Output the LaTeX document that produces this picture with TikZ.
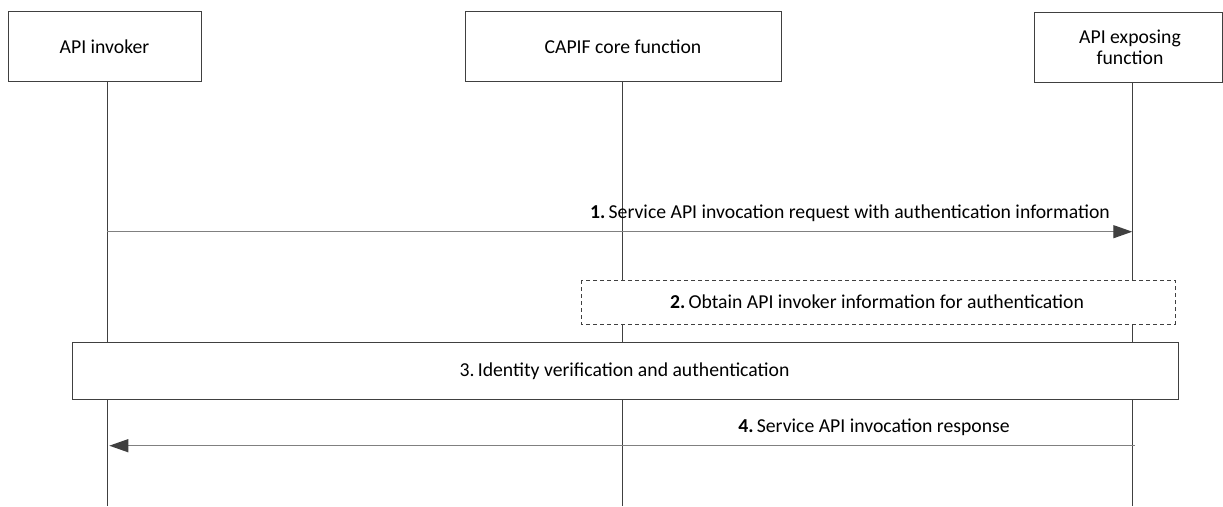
\documentclass[tikz,border=0pt]{standalone}
\usepackage{fontspec}
\setmainfont{Carlito}
\usetikzlibrary{arrows.meta}
\definecolor{edge}{HTML}{404040}
\definecolor{msg}{HTML}{808080}
\begin{document}
\begin{tikzpicture}[x=1pt,y=-1pt,
  every node/.style={font=\fontsize{19.7}{21.5}\selectfont, inner sep=0pt},
  entity/.style={draw=edge, line width=1pt, fill=white},
  lifeline/.style={draw=edge, line width=1pt},
  stepbox/.style={draw=edge, line width=1pt, fill=white},
  optbox/.style={draw=edge, line width=1pt, fill=white, dashed, dash pattern=on 4pt off 3pt},
  message/.style={draw=msg, line width=1.3pt, -{Triangle[length=19pt,width=13pt,color=edge,fill=edge]}},
  lbl/.style={anchor=base}]
\useasboundingbox (0,0) rectangle (1223,506);
% entity boxes
\draw[entity] (8,11.7) rectangle (201,81);
\draw[entity] (465,11.7) rectangle (781,81);
\draw[entity] (1034,12.7) rectangle (1222,82);
\node (A) at (104.5,46.3) {API invoker};
\node (B) at (623,46.3) {CAPIF core function};
\node[align=center] (C) at (1130,47.3) {API exposing\\function};
% lifelines
\coordinate (Atop) at (107,81);
\coordinate (Abot) at (107,506);
\coordinate (Btop) at (622,81);
\coordinate (Bbot) at (622,506);
\coordinate (Ctop) at (1132.3,82);
\coordinate (Cbot) at (1132.3,506);
\draw[lifeline] (Atop) -- (Abot);
\draw[lifeline] (Btop) -- (Bbot);
\draw[lifeline] (Ctop) -- (Cbot);
% step 1
\coordinate (m1s) at (107,231.7);
\coordinate (m1e) at (1132.3,231.7);
\draw[message] (m1s) -- (m1e);
\node[lbl] (l1) at (850,218) {\textbf{1.}\,Service API invocation request with authentication information};
% step 2
\draw[optbox] (581,280) rectangle (1175,324);
\node (l2) at (877,302) {\textbf{2.}\,Obtain API invoker information for authentication};
% step 3
\draw[stepbox] (72.3,342.3) rectangle (1178.7,399.7);
\node (l3) at (624.5,371) {3.\,Identity verification and authentication};
% step 4
\coordinate (m4s) at (1134.7,445.7);
\coordinate (m4e) at (109.3,445.7);
\draw[message] (m4s) -- (m4e);
\node[lbl] (l4) at (874,432) {\textbf{4.}\,Service API invocation response};
\end{tikzpicture}
\end{document}
